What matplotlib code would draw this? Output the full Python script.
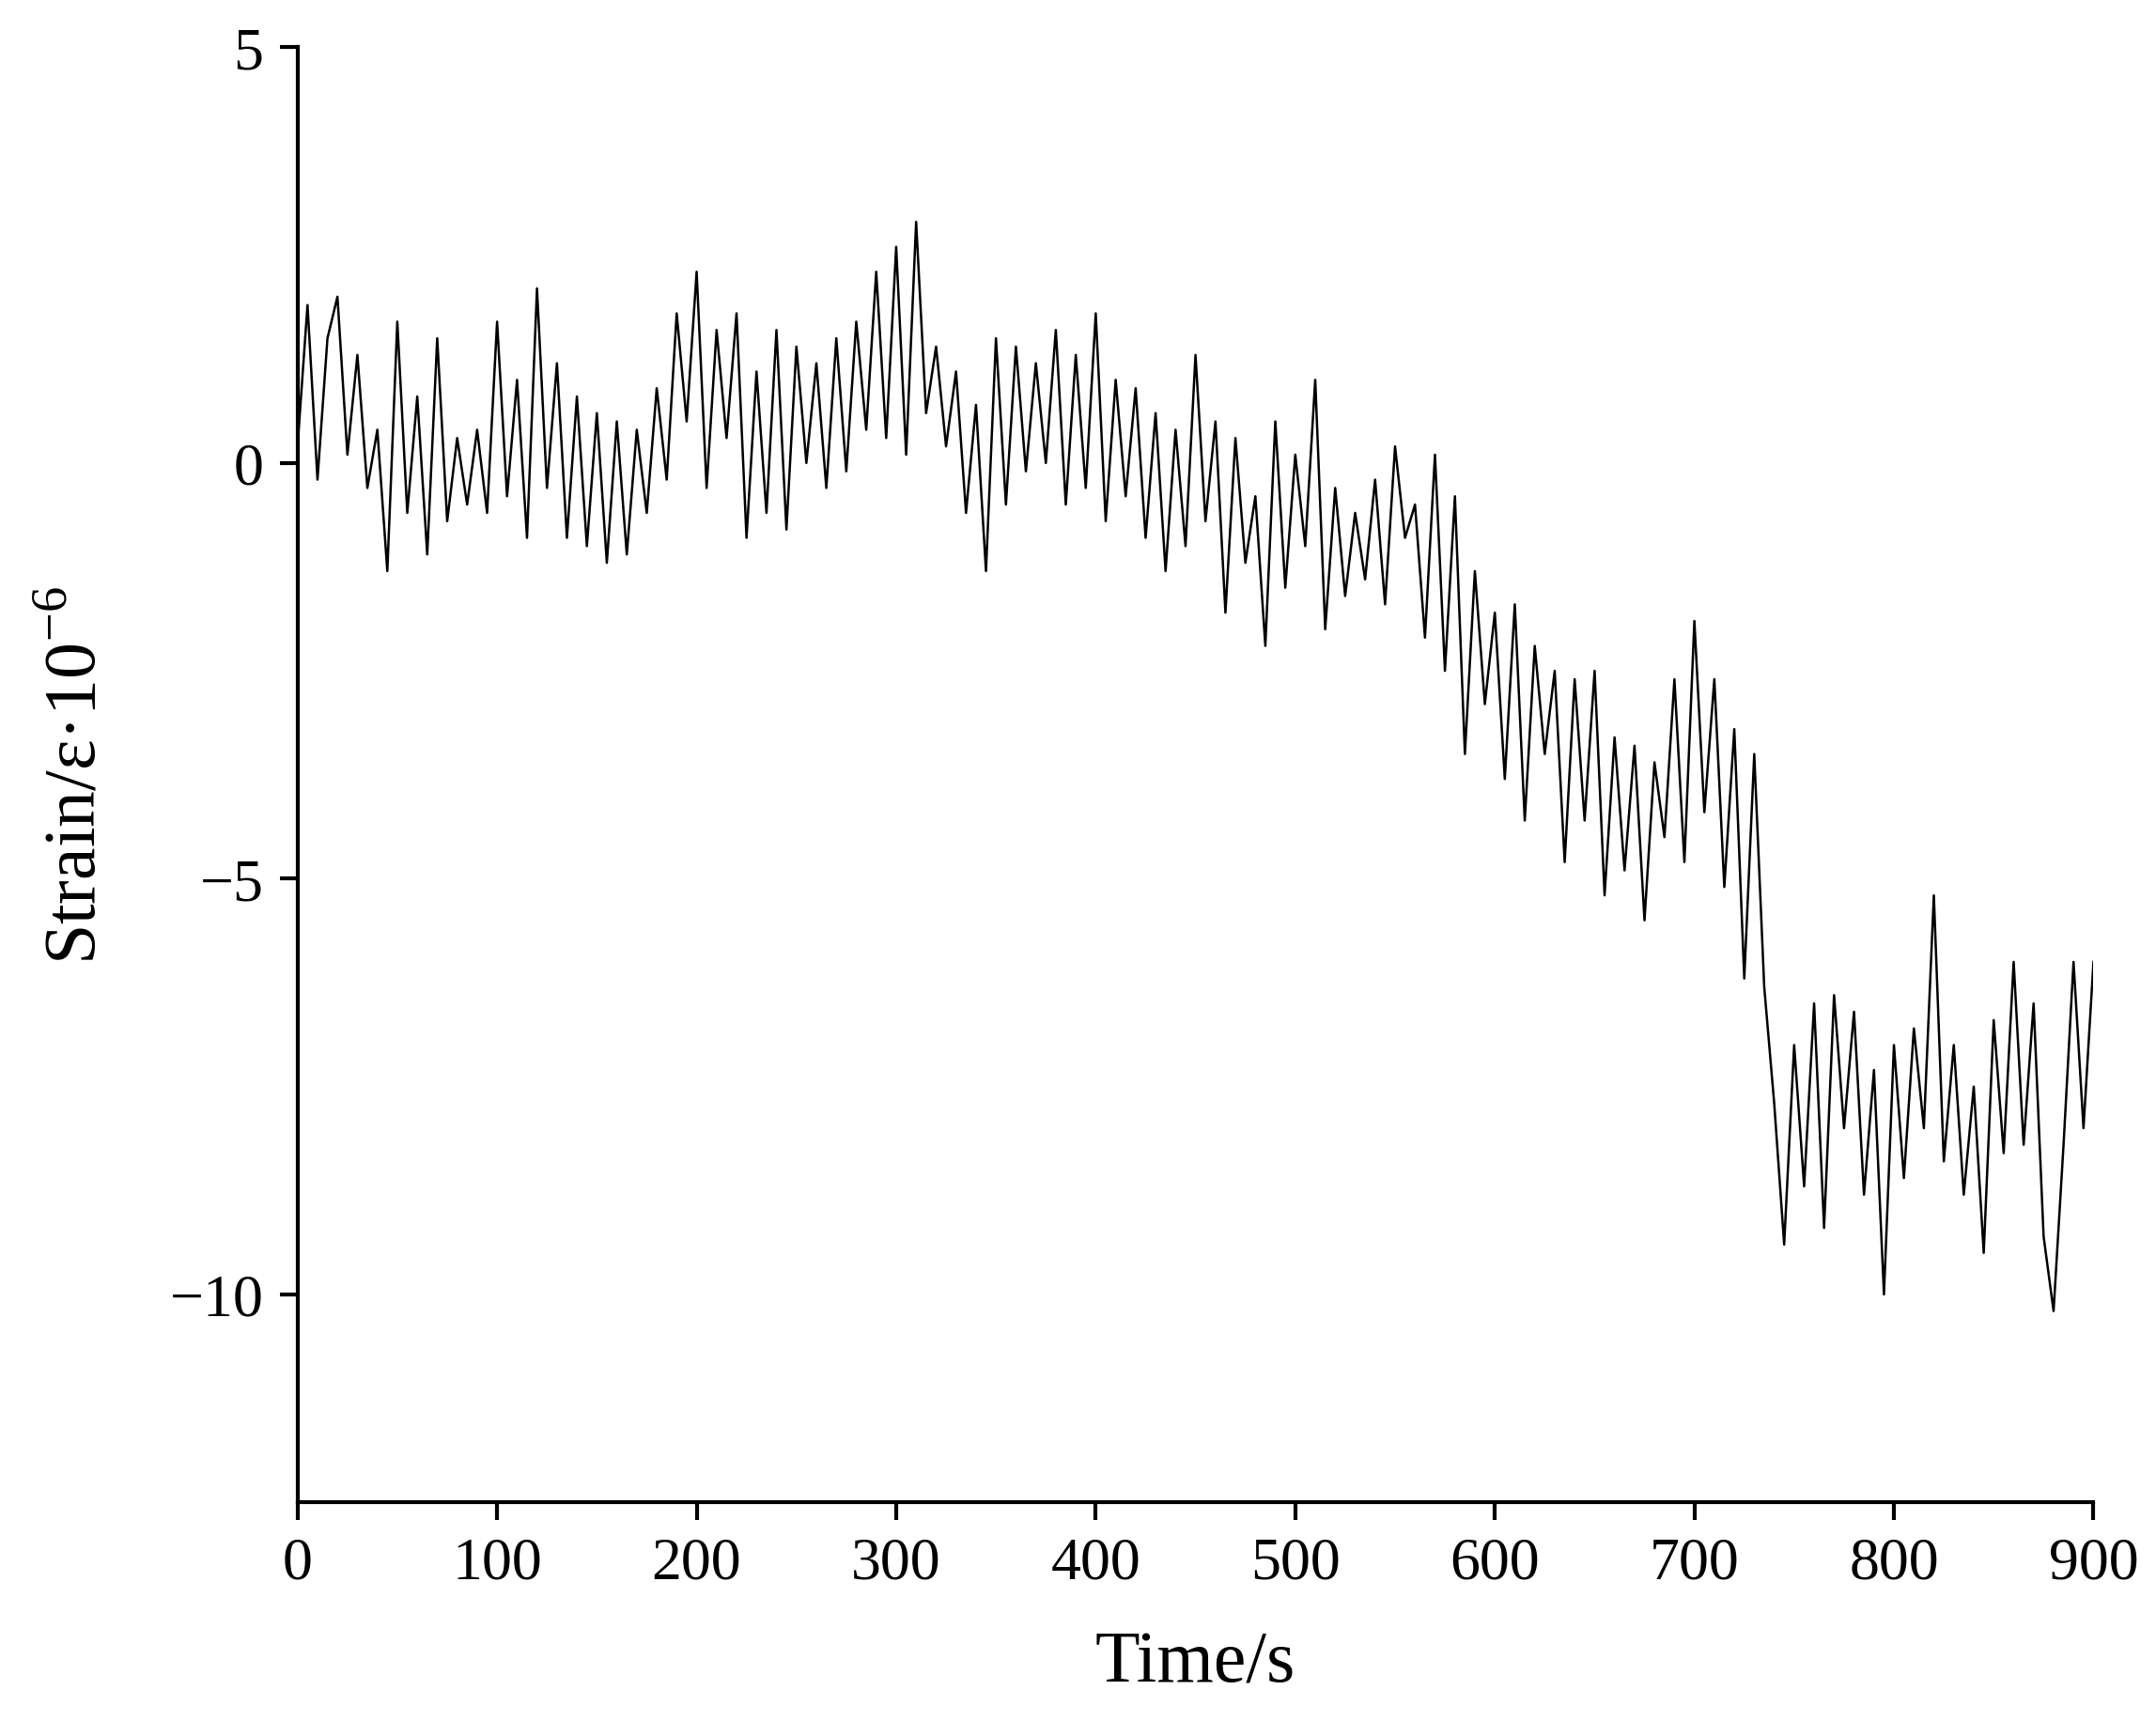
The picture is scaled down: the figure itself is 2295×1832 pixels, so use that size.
import matplotlib
matplotlib.use("Agg")
import matplotlib.pyplot as plt
import numpy as np

# strain readings every 5 s
time_s = np.arange(0, 905, 5)
strain = [
    0.2, 1.9, -0.2, 1.5, 2.0, 0.1, 1.3, -0.3, 0.4, -1.3,     # 0-45
    1.7, -0.6, 0.8, -1.1, 1.5, -0.7, 0.3, -0.5, 0.4, -0.6,   # 50-95
    1.7, -0.4, 1.0, -0.9, 2.1, -0.3, 1.2, -0.9, 0.8, -1.0,   # 100-145
    0.6, -1.2, 0.5, -1.1, 0.4, -0.6, 0.9, -0.2, 1.8, 0.5,    # 150-195
    2.3, -0.3, 1.6, 0.3, 1.8, -0.9, 1.1, -0.6, 1.6, -0.8,    # 200-245
    1.4, 0.0, 1.2, -0.3, 1.5, -0.1, 1.7, 0.4, 2.3, 0.3,      # 250-295
    2.6, 0.1, 2.9, 0.6, 1.4, 0.2, 1.1, -0.6, 0.7, -1.3,      # 300-345
    1.5, -0.5, 1.4, -0.1, 1.2, 0.0, 1.6, -0.5, 1.3, -0.3,    # 350-395
    1.8, -0.7, 1.0, -0.4, 0.9, -0.9, 0.6, -1.3, 0.4, -1.0,   # 400-445
    1.3, -0.7, 0.5, -1.8, 0.3, -1.2, -0.4, -2.2, 0.5, -1.5,  # 450-495
    0.1, -1.0, 1.0, -2.0, -0.3, -1.6, -0.6, -1.4, -0.2, -1.7,  # 500-545
    0.2, -0.9, -0.5, -2.1, 0.1, -2.5, -0.4, -3.5, -1.3, -2.9,  # 550-595
    -1.8, -3.8, -1.7, -4.3, -2.2, -3.5, -2.5, -4.8, -2.6, -4.3,  # 600-645
    -2.5, -5.2, -3.3, -4.9, -3.4, -5.5, -3.6, -4.5, -2.6, -4.8,  # 650-695
    -1.9, -4.2, -2.6, -5.1, -3.2, -6.2, -3.5, -6.3, -7.7, -9.4,  # 700-745
    -7.0, -8.7, -6.5, -9.2, -6.4, -8.0, -6.6, -8.8, -7.3, -10.0,  # 750-795
    -7.0, -8.6, -6.8, -8.0, -5.2, -8.4, -7.0, -8.8, -7.5, -9.5,  # 800-845
    -6.7, -8.3, -6.0, -8.2, -6.5, -9.3, -10.2, -8.2, -6.0, -8.0,  # 850-895
    -6.0,
]

plt.rcParams["font.family"] = ["Liberation Serif", "DejaVu Serif"]
plt.rcParams["mathtext.fontset"] = "custom"
plt.rcParams["mathtext.rm"] = "Liberation Serif"
fig = plt.figure(figsize=(22.95, 18.33), dpi=100)
ax = fig.add_axes([0.138, 0.127, 0.833, 0.845])
ax.plot(time_s, strain, color="black", lw=1.8)
ax.set_xlim(0, 900)
ax.set_ylim(-12.5, 5)
ax.set_xticks(range(0, 901, 100))
ax.set_yticks([5, 0, -5, -10])
ax.set_yticklabels(["5", "0", "\u22125", "\u221210"])
for s in ("top", "right"):
    ax.spines[s].set_visible(False)
for s in ("left", "bottom"):
    ax.spines[s].set_linewidth(3)
ax.tick_params(direction="out", length=14, width=3, labelsize=46, pad=12)
ax.set_xlabel("Time/s", fontsize=56, labelpad=30)
ax.set_ylabel("Strain/\u03b5\u00b710$^{\\mathregular{-6}}$", fontsize=56, labelpad=45)
fig.savefig("out.png", dpi=100)
